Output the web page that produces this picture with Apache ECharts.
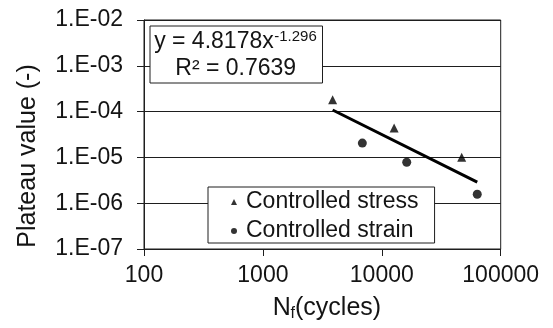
<!DOCTYPE html>
<html>
<head>
<meta charset="utf-8">
<script src="https://cdn.jsdelivr.net/npm/echarts@6/dist/echarts.min.js"></script>
<style>
  html, body { margin: 0; padding: 0; background: #fff; }
  #chart { width: 553px; height: 328px; }
</style>
</head>
<body>
<div id="chart"></div>
<script>
// Plateau value versus fatigue life, both on log scales
const stressCycles = [3860, 12700, 47000];
const stressPlateau = [1.81e-4, 4.36e-5, 1.01e-5];
const strainCycles = [6860, 16200, 63500];
const strainPlateau = [2.05e-5, 7.85e-6, 1.57e-6];

// Power-law fit over all tests: y = a * x^b
const fitCoef = 4.8178;
const fitExp = -1.296;
const fitR2 = 0.7639;

const xTickValues = [100, 1000, 10000, 100000];
const xTickLabels = ['100', '1000', '10000', '100000'];
const yTickValues = [1e-7, 1e-6, 1e-5, 1e-4, 1e-3, 1e-2];
const yTickLabels = ['1.E-07', '1.E-06', '1.E-05', '1.E-04', '1.E-03', '1.E-02'];

const seriesNames = ['Controlled stress', 'Controlled strain'];

const FONT = '"Liberation Sans", Arial, Helvetica, sans-serif';
const INK = '#141414';
const LINE = '#1e1e1e';

function labelFor(values, labels, v) {
  let best = 0;
  for (let i = 1; i < values.length; i++) {
    if (Math.abs(Math.log10(values[i]) - Math.log10(v)) < Math.abs(Math.log10(values[best]) - Math.log10(v))) best = i;
  }
  return labels[best];
}

const measureCtx = document.createElement('canvas').getContext('2d');
function textWidth(text, font) {
  measureCtx.font = font;
  return measureCtx.measureText(text).width;
}

const allCycles = stressCycles.concat(strainCycles);
const fitX0 = Math.min.apply(null, allCycles);
const fitX1 = Math.max.apply(null, allCycles);
const fitLine = [fitX0, fitX1].map(x => [x, fitCoef * Math.pow(x, fitExp)]);

// equation first line: base text followed by a superscript exponent, centred in the box
const eqFont = '23px ' + FONT;
const supFont = '15px ' + FONT;
const eqBase = 'y = ' + fitCoef + 'x';
const eqSup = String(fitExp);
const eqBaseW = textWidth(eqBase, eqFont);
const eqSupW = textWidth(eqSup, supFont);
const eqCenterX = 235.2;
const eqStartX = eqCenterX - (eqBaseW + eqSupW) / 2;

const chart = echarts.init(document.getElementById('chart'), null, { renderer: 'canvas' });

const gridLeft = 144, gridTop = 20, gridW = 356.7, gridH = 229;

chart.setOption({
  animation: false,
  backgroundColor: '#fff',
  textStyle: { fontFamily: FONT, color: INK },
  grid: {
    left: gridLeft, top: gridTop, width: gridW, height: gridH,
    show: true, borderColor: LINE, borderWidth: 1, backgroundColor: 'transparent'
  },
  xAxis: {
    type: 'log', logBase: 10, min: 100, max: 100000,
    axisLine: { lineStyle: { color: LINE, width: 1 } },
    axisTick: { show: true, length: 7, lineStyle: { color: LINE } },
    minorTick: { show: false },
    splitLine: { show: false },
    axisLabel: {
      margin: 15, fontSize: 23, fontFamily: FONT, color: INK,
      formatter: v => labelFor(xTickValues, xTickLabels, v)
    }
  },
  yAxis: [{
    type: 'log', logBase: 10, min: 1e-7, max: 1e-2,
    axisLine: { show: true, lineStyle: { color: LINE, width: 1 } },
    axisTick: { show: true, length: 7, lineStyle: { color: LINE } },
    splitLine: { show: true, lineStyle: { color: LINE, width: 1 } },
    axisLabel: {
      margin: 21, fontSize: 23, fontFamily: FONT, color: INK,
      formatter: v => labelFor(yTickValues, yTickLabels, v)
    }
  }, {
    // inner half of the cross ticks on the value axis
    type: 'log', logBase: 10, min: 1e-7, max: 1e-2, position: 'left',
    axisLine: { show: false },
    axisTick: { show: true, inside: true, length: 5, lineStyle: { color: LINE } },
    splitLine: { show: false },
    axisLabel: { show: false }
  }],
  legend: {
    orient: 'vertical',
    left: 208, top: 187,
    padding: [3, 16, 0, 23],
    itemGap: 5,
    itemWidth: 6, itemHeight: 6,
    backgroundColor: '#fff',
    borderColor: LINE, borderWidth: 1, borderRadius: 0,
    textStyle: { fontSize: 23, fontFamily: FONT, color: INK, lineHeight: 24, padding: [0, 0, 0, 4] },
    data: [
      { name: seriesNames[0], icon: 'triangle', itemStyle: { color: '#000' } },
      { name: seriesNames[1], icon: 'circle', itemStyle: { color: '#000' } }
    ]
  },
  series: [
    {
      name: 'Power fit',
      type: 'line',
      data: fitLine,
      showSymbol: false,
      lineStyle: { color: '#000', width: 3 },
      silent: true,
      z: 2
    },
    {
      name: seriesNames[0],
      type: 'scatter',
      symbol: 'triangle',
      symbolSize: 9,
      itemStyle: { color: '#000' },
      data: stressCycles.map((x, i) => [x, stressPlateau[i]]),
      z: 3
    },
    {
      name: seriesNames[1],
      type: 'scatter',
      symbol: 'circle',
      symbolSize: 9,
      itemStyle: { color: '#000' },
      data: strainCycles.map((x, i) => [x, strainPlateau[i]]),
      z: 3
    }
  ],
  graphic: [
    // fit equation box
    {
      type: 'rect', left: 149.5, top: 25.5, z: 10,
      shape: { width: 172.5, height: 57 },
      style: { fill: '#fff', stroke: LINE, lineWidth: 1 }
    },
    {
      type: 'text', x: eqStartX, y: 41.7, z: 11,
      style: { text: eqBase, font: eqFont, fill: INK, textAlign: 'left', textVerticalAlign: 'middle' }
    },
    {
      type: 'text', x: eqStartX + eqBaseW + 0.5, y: 36.6, z: 11,
      style: { text: eqSup, font: supFont, fill: INK, textAlign: 'left', textVerticalAlign: 'middle' }
    },
    {
      type: 'text', x: 235.7, y: 68.3, z: 11,
      style: { text: 'R² = ' + fitR2, font: '23px ' + FONT, fill: INK, textAlign: 'center', textVerticalAlign: 'middle' }
    },
    // value axis title
    {
      type: 'text', x: 28, y: 156, rotation: Math.PI / 2, z: 11,
      style: { text: 'Plateau value (-)', font: '25px ' + FONT, fill: INK, textAlign: 'center', textVerticalAlign: 'middle' }
    },
    // cycle axis title with subscript
    {
      type: 'text', x: 272.7, y: 308.5, z: 11,
      style: { text: 'N', font: '25px ' + FONT, fill: INK, textAlign: 'left', textVerticalAlign: 'middle' }
    },
    {
      type: 'text', x: 290.6, y: 314, z: 11,
      style: { text: 'f', font: '16px ' + FONT, fill: INK, textAlign: 'left', textVerticalAlign: 'middle' }
    },
    {
      type: 'text', x: 295, y: 308.5, z: 11,
      style: { text: '(cycles)', font: '25px ' + FONT, fill: INK, textAlign: 'left', textVerticalAlign: 'middle' }
    }
  ]
});
</script>
</body>
</html>
